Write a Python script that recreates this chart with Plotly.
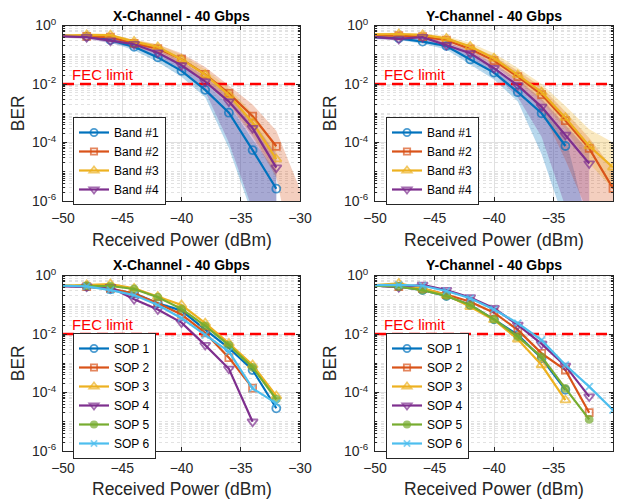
import numpy as np
import plotly.graph_objects as go

FONT = "Liberation Sans, Arial, Helvetica, sans-serif"
AX = "#262626"

# received power grid (dBm)
power_dbm = [-50, -48, -46, -44, -42, -40, -38, -36, -34, -32, -30]

# ---- values are log10(BER) ----
# Panel A: X-Channel, bands
band_names = ["Band #1", "Band #2", "Band #3", "Band #4"]
xa_band1 = [-0.35, -0.38, -0.50, -0.73, -1.09, -1.55, -2.20, -2.98, -4.26, -5.58]
xa_band2 = [-0.35, -0.37, -0.40, -0.61, -0.79, -1.15, -1.67, -2.32, -3.10, -4.13]
xa_band3 = [-0.35, -0.32, -0.33, -0.55, -0.73, -1.16, -1.68, -2.38, -3.32, -4.57]
xa_band4 = [-0.37, -0.40, -0.52, -0.64, -0.93, -1.36, -1.92, -2.60, -3.51, -4.86]
xa_band1_hi = [-0.30, -0.33, -0.43, -0.63, -0.95, -1.38, -1.98, -2.70, -3.90, -5.00]
xa_band1_lo = [-0.40, -0.44, -0.58, -0.85, -1.25, -1.75, -2.45, -4.20, -6.50, -9.00]
xa_band2_hi = [-0.30, -0.30, -0.32, -0.50, -0.65, -0.95, -1.42, -2.05, -2.70, -3.60, -5.60]
xa_band2_lo = [-0.40, -0.44, -0.50, -0.72, -0.95, -1.35, -1.95, -2.70, -3.80, -5.20, -9.00]
xa_band3_hi = [-0.30, -0.28, -0.29, -0.48, -0.64, -1.00, -1.50, -2.15, -3.00, -4.10]
xa_band3_lo = [-0.40, -0.37, -0.40, -0.63, -0.85, -1.32, -1.88, -2.65, -3.70, -5.10]
xa_band4_hi = [-0.32, -0.35, -0.45, -0.56, -0.82, -1.22, -1.75, -2.40, -3.25, -4.40]
xa_band4_lo = [-0.42, -0.46, -0.60, -0.75, -1.08, -1.55, -2.25, -4.00, -6.30, -9.00]

# Panel B: Y-Channel, bands
yb_band1 = [-0.40, -0.44, -0.55, -0.70, -1.16, -1.61, -2.28, -3.00, -4.12]
yb_band2 = [-0.33, -0.35, -0.38, -0.50, -0.80, -1.20, -1.75, -2.36, -3.25, -4.20, -5.57]
yb_band3 = [-0.30, -0.29, -0.32, -0.44, -0.72, -1.12, -1.69, -2.28, -3.15, -4.12, -4.85]
yb_band4 = [-0.40, -0.46, -0.40, -0.67, -0.95, -1.46, -2.05, -2.78, -3.74, -4.72]
yb_band1_hi = [-0.35, -0.38, -0.47, -0.60, -1.00, -1.45, -2.05, -2.75, -3.80, -7.00]
yb_band1_lo = [-0.45, -0.50, -0.62, -0.82, -1.32, -1.85, -2.60, -4.40, -6.80, -9.00]
yb_band2_hi = [-0.28, -0.30, -0.32, -0.42, -0.68, -1.05, -1.55, -2.10, -2.95, -3.85, -4.90]
yb_band2_lo = [-0.38, -0.40, -0.45, -0.60, -0.95, -1.38, -2.00, -2.90, -4.60, -6.50, -8.00]
yb_band3_hi = [-0.26, -0.25, -0.27, -0.36, -0.60, -0.95, -1.45, -2.00, -2.75, -3.55, -4.00]
yb_band3_lo = [-0.34, -0.34, -0.38, -0.52, -0.85, -1.30, -1.90, -2.60, -3.55, -4.70, -5.60]
yb_band4_hi = [-0.35, -0.40, -0.35, -0.58, -0.84, -1.30, -1.85, -2.50, -3.40, -4.30]
yb_band4_lo = [-0.46, -0.52, -0.47, -0.78, -1.10, -1.65, -2.45, -3.80, -6.20, -8.00]

# Panel C: X-Channel, SOPs
sop_names = ["SOP 1", "SOP 2", "SOP 3", "SOP 4", "SOP 5", "SOP 6"]
xc_sop1 = [-0.35, -0.38, -0.47, -0.61, -0.95, -1.20, -1.85, -2.48, -3.23, -4.54]
xc_sop2 = [-0.35, -0.38, -0.45, -0.62, -0.95, -1.33, -1.96, -2.81, -3.85]
xc_sop3 = [-0.35, -0.32, -0.29, -0.44, -0.72, -1.01, -1.63, -2.32, -3.06, -4.12]
xc_sop4 = [-0.37, -0.38, -0.40, -0.81, -1.16, -1.61, -2.38, -3.19, -5.00]
xc_sop5 = [-0.35, -0.35, -0.36, -0.46, -0.74, -1.14, -1.72, -2.38, -3.14, -4.23]
xc_sop6 = [-0.35, -0.37, -0.50, -0.67, -1.01, -1.46, -2.03, -2.60, -3.86, -4.37]

# Panel D: Y-Channel, SOPs
yd_sop1 = [-0.35, -0.38, -0.50, -0.70, -1.01, -1.50, -2.03, -2.83, -3.91]
yd_sop2 = [-0.35, -0.38, -0.45, -0.65, -0.90, -1.27, -1.86, -2.66, -3.23, -4.69]
yd_sop3 = [-0.33, -0.27, -0.44, -0.67, -1.07, -1.52, -2.18, -3.06, -4.26]
yd_sop4 = [-0.35, -0.40, -0.32, -0.50, -0.75, -1.12, -1.69, -2.34, -3.09, -4.14]
yd_sop5 = [-0.35, -0.38, -0.50, -0.70, -1.01, -1.50, -2.09, -2.78, -3.86, -4.92]
yd_sop6 = [-0.33, -0.32, -0.35, -0.53, -0.78, -1.16, -1.63, -2.21, -3.06, -3.80, -4.60]

fec_limit = 1e-2
titles = ["X-Channel - 40 Gbps", "Y-Channel - 40 Gbps", "X-Channel - 40 Gbps", "Y-Channel - 40 Gbps"]

colors = ["#0072BD", "#D95319", "#EDB120", "#7E2F8E", "#77AC30", "#4DBEEE"]
band_symbols = ["circle-open", "square-open", "triangle-up-open", "triangle-down-open"]
sop_symbols = ["circle-open", "square-open", "triangle-up-open", "triangle-down-open", "circle", "x-thin-open"]
sym_sizes = {"circle-open": 8, "square-open": 7, "triangle-up-open": 9, "triangle-down-open": 9,
             "circle": 7, "x-thin-open": 7}


def rgba(hexc, a):
    h = hexc.lstrip("#")
    return "rgba(%d,%d,%d,%.2f)" % (int(h[0:2], 16), int(h[2:4], 16), int(h[4:6], 16), a)


# The page body has an 8 px margin: the figure is placed at (8, 8) in the window.
PAGE_OFF = 8
FIG_W, FIG_H = 616, 496


def sx(px):
    return (px - PAGE_OFF) / FIG_W


def sy(py):
    return 1 - (py - PAGE_OFF) / FIG_H


fig = go.Figure()

# axes boxes in window pixels
xdoms = [[sx(63), sx(300)], [sx(375), sx(613)]]
ydoms = [[sy(201), sy(25.5)], [sy(451), sy(275.5)]]

panels = [
    dict(xa="x", ya="y", legend="legend",
         series=[xa_band1, xa_band2, xa_band3, xa_band4], names=band_names, symbols=band_symbols,
         shades=[(xa_band1_hi, xa_band1_lo), (xa_band2_hi, xa_band2_lo),
                 (xa_band3_hi, xa_band3_lo), (xa_band4_hi, xa_band4_lo)]),
    dict(xa="x2", ya="y2", legend="legend2",
         series=[yb_band1, yb_band2, yb_band3, yb_band4], names=band_names, symbols=band_symbols,
         shades=[(yb_band1_hi, yb_band1_lo), (yb_band2_hi, yb_band2_lo),
                 (yb_band3_hi, yb_band3_lo), (yb_band4_hi, yb_band4_lo)]),
    dict(xa="x3", ya="y3", legend="legend3",
         series=[xc_sop1, xc_sop2, xc_sop3, xc_sop4, xc_sop5, xc_sop6], names=sop_names,
         symbols=sop_symbols, shades=[]),
    dict(xa="x4", ya="y4", legend="legend4",
         series=[yd_sop1, yd_sop2, yd_sop3, yd_sop4, yd_sop5, yd_sop6], names=sop_names,
         symbols=sop_symbols, shades=[]),
]

for p in panels:
    # shaded spread regions
    for i, (hi, lo) in enumerate(p["shades"]):
        xs = power_dbm[:len(hi)]
        fig.add_trace(go.Scatter(
            x=xs + xs[::-1],
            y=list(np.power(10.0, hi)) + list(np.power(10.0, lo))[::-1],
            xaxis=p["xa"], yaxis=p["ya"], fill="toself", fillcolor=rgba(colors[i], 0.28),
            line=dict(width=0), mode="lines", showlegend=False, hoverinfo="skip"))
    # FEC limit
    fig.add_trace(go.Scatter(
        x=[power_dbm[0], power_dbm[-1]], y=[fec_limit, fec_limit], xaxis=p["xa"], yaxis=p["ya"],
        mode="lines", line=dict(color="#FF0000", width=2.6, dash="11px,6px"),
        showlegend=False, hoverinfo="skip"))
    # measured curves
    for i, vals in enumerate(p["series"]):
        xs = power_dbm[:len(vals)]
        sym = p["symbols"][i]
        sz = sym_sizes[sym]
        sizes = [0] + [sz] * (len(vals) - 1)
        fig.add_trace(go.Scatter(
            x=xs, y=list(np.power(10.0, vals)), xaxis=p["xa"], yaxis=p["ya"],
            name=p["names"][i], legend=p["legend"], mode="lines+markers",
            line=dict(color=colors[i], width=2.2),
            marker=dict(symbol=sym, size=sizes, color=colors[i],
                        line=dict(color=colors[i], width=1.8))))

major_y = [1e-6, 1e-4, 1e-2, 1e0]
major_y_text = ["10<sup>-6</sup>", "10<sup>-4</sup>", "10<sup>-2</sup>", "10<sup>0</sup>"]
minor_y = []
for d in range(-6, 0):
    for k in range(1, 10):
        v = k * 10.0 ** d
        if k == 1 and d % 2 == 0:
            continue
        minor_y.append(v)

tickfont = dict(family=FONT, size=14, color=AX)
layout_axes = {}
for idx in range(4):
    r, c = divmod(idx, 2)
    sfx = "" if idx == 0 else str(idx + 1)
    layout_axes["xaxis" + sfx] = dict(
        domain=xdoms[c], anchor="y" + sfx, range=[-50, -30], tickvals=[-50, -45, -40, -35, -30],
        ticks="inside", ticklen=4, tickcolor=AX, showline=True, mirror="ticks", linecolor=AX,
        linewidth=1, showgrid=True, gridcolor="#e0e0e0", gridwidth=1, zeroline=False,
        tickfont=tickfont, ticklabelstandoff=4)
    layout_axes["yaxis" + sfx] = dict(
        domain=ydoms[r], anchor="x" + sfx, type="log", range=[-6, 0], tickvals=major_y,
        ticktext=major_y_text, ticks="inside", ticklen=4, tickcolor=AX, showline=True,
        mirror="ticks", linecolor=AX, linewidth=1, showgrid=True, gridcolor="#e0e0e0",
        gridwidth=1, zeroline=False, tickfont=tickfont, ticklabelstandoff=3,
        minor=dict(tickvals=minor_y, showgrid=True, gridcolor="#e2e2e2", griddash="dot",
                   gridwidth=1, ticks="inside", ticklen=2, tickcolor=AX))

legend_common = dict(xanchor="left", yanchor="top", bgcolor="white", bordercolor=AX,
                     borderwidth=1, font=dict(family=FONT, size=12, color="#000000"),
                     tracegroupgap=0, itemwidth=30)
legend_pos = [(sx(73), sy(117)), (sx(386), sy(117)), (sx(73), sy(333)), (sx(386), sy(333))]
for idx, (lx, ly) in enumerate(legend_pos):
    key = "legend" if idx == 0 else "legend%d" % (idx + 1)
    layout_axes[key] = dict(x=lx, y=ly, **legend_common)

annotations = []
title_py = [15.5, 265]
xtitle_py = [240, 489]
for idx in range(4):
    r, c = divmod(idx, 2)
    xc = (xdoms[c][0] + xdoms[c][1]) / 2
    yc = (ydoms[r][0] + ydoms[r][1]) / 2
    sfx = "" if idx == 0 else str(idx + 1)
    annotations.append(dict(text="<b>" + titles[idx] + "</b>", xref="paper", yref="paper",
                            x=xc, y=sy(title_py[r]), xanchor="center", yanchor="middle",
                            showarrow=False, font=dict(family=FONT, size=14, color="#000000")))
    annotations.append(dict(text="Received Power (dBm)", xref="paper", yref="paper",
                            x=xc, y=sy(xtitle_py[r]), xanchor="center", yanchor="middle",
                            showarrow=False, font=dict(family=FONT, size=17.5, color=AX)))
    annotations.append(dict(text="BER", xref="paper", yref="paper", textangle=-90,
                            x=sx(18 + 312 * c), y=yc, xanchor="center", yanchor="middle",
                            showarrow=False, font=dict(family=FONT, size=17.5, color=AX)))
    annotations.append(dict(text="FEC limit", xref="x" + sfx, yref="y" + sfx,
                            x=-49.45, y=np.log10(fec_limit), xanchor="left", yanchor="bottom",
                            yshift=-1, showarrow=False,
                            font=dict(family=FONT, size=15, color="#FF0000")))

fig.update_layout(
    width=FIG_W, height=FIG_H, margin=dict(l=0, r=0, t=0, b=0, autoexpand=False),
    paper_bgcolor="white", plot_bgcolor="white",
    font=dict(family=FONT, color=AX),
    annotations=annotations,
    **layout_axes)

fig.write_html("out.html")
